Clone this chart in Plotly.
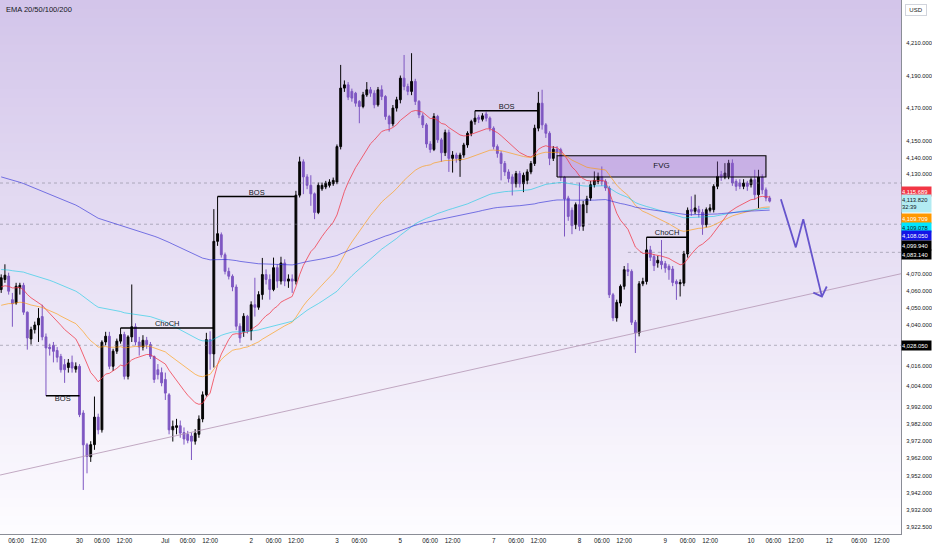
import math
import plotly.graph_objects as go

# ---------------- data (1h candles) ----------------
opens = [
    4061, 4067, 4069, 4055, 4053, 4062, 4063.5, 4047.6, 4031.8, 4037.3,
    4040, 4045, 4033, 4027, 4028, 4025, 4021.5, 4016.7, 4015, 4018,
    4014, 4015.7, 3988.4, 3969.9, 3963, 3970, 3986, 3978.6, 4030, 4033.4,
    4015.7, 4024.6, 4030.5, 4034.4, 4009.8, 4033, 4039, 4030, 4027, 4031,
    4028.5, 4021.5, 4013.7, 4012, 4008, 3999, 3978.6, 3980, 3981, 3977,
    3976, 3975, 3972, 3976, 3984.9, 3999, 4031.4, 4023, 4089.7, 4093.7,
    4081.7, 4071.8, 4068.9, 4062.5, 4039.3, 4036, 4045.2, 4036.5, 4052, 4050.5,
    4058, 4069.9, 4067, 4061, 4074, 4066, 4076.8, 4066, 4067.3, 4066,
    4117.4, 4137.5, 4128.4, 4123.3, 4118.2, 4107, 4121.2, 4122.3, 4123.3, 4124.3,
    4125.3, 4146.7, 4182.3, 4184.3, 4180.3, 4179.2, 4174.2, 4171.1, 4178.2, 4181.3,
    4179.2, 4172.1, 4181.3, 4177.2, 4165, 4160.5, 4170.1, 4175.2, 4188.4, 4183.3,
    4180.3, 4186.4, 4174.2, 4165.4, 4159.9, 4148.3, 4145, 4165, 4150.8, 4143,
    4155.2, 4139.6, 4141.6, 4138.5, 4141.6, 4147.7, 4154.8, 4161.9, 4164.5, 4163.3,
    4166.5, 4164, 4157.9, 4146.7, 4142.6, 4136.5, 4131.4, 4128.4, 4124.3, 4130.4,
    4124.3, 4126.3, 4131.4, 4136.5, 4157.9, 4173.1, 4159.9, 4154.8, 4139.6, 4145.1,
    4144.8, 4128.3, 4115.7, 4108.3, 4099.7, 4111.7, 4098.7, 4111.7, 4115.7, 4123.7,
    4125.7, 4128.7, 4125.7, 4121.7, 4057.9, 4044.2, 4053, 4062.9, 4072.8, 4071.8,
    4041.6, 4035.3, 4064.4, 4065.8, 4084.6, 4080.6, 4076.8, 4077.8, 4076.4, 4074.8,
    4073.2, 4065.8, 4064.4, 4064.8, 4082.2, 4108.7, 4107.7, 4108.7, 4107.1, 4099.7,
    4108.3, 4108.7, 4122.7, 4129.7, 4128.3, 4128.7, 4136.7, 4125.7, 4124.7, 4122.7,
    4124.7, 4123.7, 4126.7, 4117.7, 4128.3, 4120.6, 4115.7,
]
highs = [
    4070, 4076, 4071, 4059, 4065, 4065, 4065, 4048, 4039, 4042,
    4050, 4052, 4035, 4029, 4030, 4027, 4023, 4020, 4020, 4022,
    4018, 4017, 3990, 3971, 3972, 3998, 3988, 4031, 4036, 4036,
    4026, 4032, 4038.3, 4036, 4034, 4064, 4041, 4033, 4034, 4033,
    4030, 4022, 4017, 4015, 4012, 4000, 3984, 3985, 3984, 3980,
    3978, 3977, 3979, 3987, 4001, 4035.4, 4036.3, 4109, 4116.6, 4095,
    4083, 4074, 4070, 4064, 4041, 4047, 4046, 4054, 4068, 4060,
    4079.8, 4073, 4070, 4080, 4076, 4080.5, 4079, 4070, 4070, 4120,
    4140.6, 4139, 4130, 4129.4, 4119, 4125, 4125, 4126, 4127, 4128,
    4148, 4196.5, 4187, 4186, 4182, 4180, 4175, 4180, 4186, 4183,
    4181, 4183, 4184, 4178, 4166, 4172, 4177, 4190, 4202.6, 4185,
    4203.7, 4188, 4175, 4167, 4161, 4150, 4167, 4166, 4152, 4157,
    4157, 4144, 4143, 4143, 4149, 4156, 4163, 4168.5, 4166, 4167,
    4168, 4165, 4159, 4148, 4144, 4138, 4133, 4130, 4132, 4132,
    4131, 4133, 4138, 4160, 4180, 4181.3, 4161, 4156, 4147, 4147,
    4146, 4129, 4117, 4110, 4113, 4125, 4114, 4117, 4126, 4131.7,
    4131, 4134.7, 4127, 4123, 4059, 4055, 4064, 4075, 4076.7, 4073,
    4043, 4066, 4068, 4092.2, 4087, 4082, 4081, 4090.5, 4078, 4076,
    4075, 4067, 4067, 4084, 4110, 4116.7, 4117.7, 4111, 4109, 4110,
    4112, 4124, 4137.7, 4132, 4136.7, 4138.7, 4139, 4127, 4127, 4127,
    4126, 4128, 4132.7, 4132.7, 4130, 4122, 4117,
]
lows = [
    4059, 4065, 4058, 4039, 4052, 4058, 4046, 4025.5, 4028.5, 4035,
    4030, 4031, 3998.4, 4022, 4018, 4018, 4012, 4006, 4012, 4012,
    4012, 3986, 3943.8, 3953.4, 3960, 3967, 3976, 3977, 4028, 4014,
    4013, 4023, 4029, 4008, 4008, 4030, 4028, 4022, 4025, 4026,
    4020, 4006, 4008, 4004, 3996, 3976, 3971.8, 3976, 3974, 3970,
    3970.8, 3961.1, 3970, 3974, 3983, 3998, 4013.7, 4015, 4087, 4080,
    4070, 4067, 4060, 4037, 4029.5, 4033, 4035, 4031, 4045, 4049,
    4055, 4064, 4055, 4060, 4062, 4064, 4063, 4062, 4059, 4064,
    4116, 4118, 4121, 4111, 4103, 4106, 4120, 4121, 4122, 4123,
    4124, 4145, 4180, 4175, 4174, 4171, 4160.9, 4170, 4177, 4177,
    4170, 4171, 4175, 4163, 4155.8, 4159, 4168, 4173, 4181, 4178,
    4178, 4172, 4164, 4158, 4146, 4143, 4144, 4149, 4137.5, 4141,
    4131.4, 4131, 4137, 4128.4, 4140, 4146, 4153, 4160, 4161, 4162,
    4162, 4156, 4145, 4140, 4126.3, 4129, 4125, 4117.2, 4122, 4122,
    4119.2, 4124, 4130, 4135, 4156, 4157, 4152, 4135.5, 4138, 4141,
    4126, 4092.6, 4102, 4094, 4097, 4096, 4096, 4106.6, 4114, 4122,
    4124, 4123, 4120, 4056, 4042.3, 4042, 4051, 4061, 4069, 4040,
    4023.5, 4033.3, 4063, 4064, 4078, 4072, 4074, 4073, 4071, 4066.8,
    4063, 4054.9, 4056.9, 4063, 4080, 4105, 4106, 4104, 4093.6, 4098,
    4107, 4107, 4121, 4126, 4127, 4127, 4123, 4120, 4121, 4121,
    4120, 4122, 4114.7, 4109.7, 4118, 4113.7, 4113,
]
closes = [
    4068, 4069.5, 4060, 4052.6, 4063, 4063.5, 4047.6, 4032.4, 4037.3, 4040,
    4044, 4033, 4026.5, 4026, 4024.5, 4021, 4013.7, 4013.7, 4017.7, 4014.7,
    4015.7, 3987.4, 3969.9, 3963.1, 3970, 3986, 3978.6, 4029.9, 4033.4, 4015.7,
    4024.6, 4030.5, 4034.4, 4009.8, 4033, 4039, 4030, 4027, 4031, 4028.5,
    4021.5, 4008, 4010.8, 4006, 4000, 3978.6, 3980.6, 3981, 3976.7, 3973.3,
    3972.5, 3972, 3976.6, 3984.9, 3999, 4031.4, 4023, 4089.7, 4094.3, 4081.7,
    4071.8, 4068.9, 4062.5, 4039.3, 4032.4, 4045.2, 4036.5, 4052, 4050.5, 4058,
    4069.9, 4067, 4061, 4074, 4066, 4076.8, 4066, 4067.3, 4066, 4117.4,
    4137.5, 4128.4, 4123.3, 4118.2, 4107, 4123.3, 4123.3, 4124.7, 4125.3, 4126.3,
    4146.7, 4182.3, 4184.3, 4176.8, 4176.2, 4173.1, 4171.1, 4178.2, 4181.3, 4179.2,
    4172.1, 4181.3, 4177.2, 4165, 4160.5, 4170.1, 4175.2, 4188.4, 4183.3, 4180.3,
    4186.4, 4174.2, 4166, 4159.9, 4148.3, 4145, 4165, 4150.8, 4143, 4155.2,
    4139.6, 4141.6, 4139.6, 4141.6, 4147.7, 4154.8, 4161.9, 4164, 4163.3, 4165.4,
    4164, 4157.9, 4146.7, 4142.6, 4136.5, 4131.4, 4127.3, 4124.3, 4130.4, 4124.3,
    4129.4, 4131.4, 4136.5, 4157.9, 4173.1, 4159.9, 4154.8, 4139.6, 4145.1, 4143,
    4128.3, 4115.1, 4104.6, 4099.1, 4111.7, 4098.7, 4111.7, 4115.1, 4123.7, 4126.3,
    4128.7, 4125.7, 4121.7, 4057.9, 4044.2, 4053.4, 4062.9, 4072.8, 4071.8, 4041.6,
    4035.3, 4064.4, 4065.8, 4084.6, 4080.2, 4075.2, 4078.4, 4075.8, 4073.8, 4072.8,
    4065.2, 4064.4, 4065.2, 4082.2, 4108.3, 4107.7, 4109.7, 4107.1, 4099.7, 4108.7,
    4109.7, 4122.7, 4128.7, 4128.3, 4130.7, 4136.7, 4124.7, 4122.7, 4122.7, 4124.7,
    4122.7, 4126.7, 4117.7, 4128.3, 4120.6, 4115.7, 4113.8,
]

# EMA settings; the seed is the EMA value read at the left edge of the chart
ema_spans = [20, 50, 100, 200]
ema_seeds = [4062, 4051, 4073, 4129]
ema_colors = ["rgba(242,54,69,0.75)", "rgba(255,152,0,0.6)",
              "rgba(0,200,225,0.55)", "rgba(40,40,215,0.6)"]

# time scale labels (bar index where each label sits)
xtick_idx = [4, 10, 21, 27, 33, 44, 50, 56, 67, 73, 79, 90, 96, 107, 115, 121,
             132, 138, 144, 155, 161, 167, 178, 184, 190, 201, 207, 213, 222, 230, 236]
xtick_txt = ["06:00", "12:00", "30", "06:00", "12:00", "Jul", "06:00", "12:00",
             "2", "06:00", "12:00", "3", "06:00", "5", "06:00", "12:00",
             "7", "06:00", "12:00", "8", "06:00", "12:00", "9", "06:00", "12:00",
             "10", "06:00", "12:00", "12", "06:00", "12:00"]

# price scale labels
ytick_vals = [4210, 4190, 4170, 4150, 4140, 4130, 4070, 4060, 4050, 4040,
              4016, 4004, 3992, 3982, 3972, 3962, 3952, 3942, 3932, 3922.5]

# horizontal levels (dotted)
level_prices = [4124.7, 4099.94, 4083.14, 4028.05]
level_start = [None, None, 168, None]

# market structure brackets
struct_text = ["BOS", "ChoCH", "BOS", "BOS", "ChoCH"]
struct_price = [3998.4, 4038.3, 4116.6, 4168.5, 4092.2]
struct_from = [12, 32, 58, 127, 173]
struct_to = [21, 57, 79, 144, 184]
struct_below = [True, False, False, False, False]

# FVG zone
fvg_x = [149, 205]
fvg_y = [4128.3, 4141.2]

# rising trend line
trend_x = [-0.3, 241.2]
trend_y = [3952.4, 4070.4]

# projected path + arrow head
proj_x = [209, 213, 215, 220]
proj_y = [4114.9, 4086.1, 4102.9, 4056.8]
head_x = [217.7, 220, 221.3]
head_y = [4059.2, 4056.8, 4062.8]

# ---------------- figure ----------------
W, H = 932, 550
PR, PB = 901, 534          # plot right / bottom edge in px
X_RANGE = [-0.32, 241.2]
Y_RANGE = [math.log10(3918.5), math.log10(4236.5)]
FONT = "Liberation Sans Narrow, Liberation Sans, Arial, sans-serif"
INK = "#131722"
PURPLE = "#7e57c2"

n = len(closes)
idx = list(range(n))


def ema(vals, span, seed):
    a = 2 / (span + 1)
    out, v = [], seed
    for c in vals:
        v += a * (c - v)
        out.append(v)
    return out


fig = go.Figure()

# FVG box first so the candles sit on top
fig.add_trace(go.Scatter(
    x=[fvg_x[0], fvg_x[1], fvg_x[1], fvg_x[0], fvg_x[0]],
    y=[fvg_y[0], fvg_y[0], fvg_y[1], fvg_y[1], fvg_y[0]],
    mode="lines", fill="toself", fillcolor="rgba(150,95,205,0.32)",
    line=dict(color="#000000", width=1.1), hoverinfo="skip"))

# dotted levels
for p, s in zip(level_prices, level_start):
    x0 = X_RANGE[0] if s is None else s
    fig.add_trace(go.Scatter(x=[x0, X_RANGE[1]], y=[p, p], mode="lines",
                             line=dict(color="rgba(120,120,135,0.5)", width=1, dash="dot"),
                             hoverinfo="skip"))

# trend line
fig.add_trace(go.Scatter(x=trend_x, y=trend_y, mode="lines",
                         line=dict(color="rgba(180,150,180,0.8)", width=1), hoverinfo="skip"))

# EMAs
for span, seed, col in zip(ema_spans, ema_seeds, ema_colors):
    fig.add_trace(go.Scatter(x=idx, y=ema(closes, span, seed), mode="lines",
                             line=dict(color=col, width=1), hoverinfo="skip"))

# candles
fig.add_trace(go.Candlestick(
    x=idx, open=opens, high=highs, low=lows, close=closes,
    increasing=dict(line=dict(color="#050505", width=1), fillcolor="#050505"),
    decreasing=dict(line=dict(color=PURPLE, width=1), fillcolor=PURPLE),
    whiskerwidth=0, hoverinfo="skip"))

# BOS / ChoCH brackets
for t, p, a, b, below in zip(struct_text, struct_price, struct_from, struct_to, struct_below):
    fig.add_trace(go.Scatter(x=[a, b], y=[p, p], mode="lines",
                             line=dict(color="#000000", width=1.5), hoverinfo="skip"))
    fig.add_trace(go.Scatter(x=[(a + b) / 2], y=[p], mode="text", text=[t],
                             textposition="bottom center" if below else "top center",
                             textfont=dict(family=FONT, size=7.5, color=INK), hoverinfo="skip"))

fig.add_trace(go.Scatter(x=[(fvg_x[0] + fvg_x[1]) / 2], y=[math.sqrt(fvg_y[0] * fvg_y[1])],
                         mode="text", text=["FVG"],
                         textfont=dict(family=FONT, size=8, color=INK), hoverinfo="skip"))

# projection
fig.add_trace(go.Scatter(x=proj_x, y=proj_y, mode="lines",
                         line=dict(color="#6654cc", width=1.8), hoverinfo="skip"))
fig.add_trace(go.Scatter(x=head_x, y=head_y, mode="lines",
                         line=dict(color="#6654cc", width=1.8), hoverinfo="skip"))

# background gradient (lavender -> white) behind the plot area;
# bands overlap a little so no seams show between them
top, bot = (211, 197, 234), (253, 252, 255)
bands = 60
shapes = []
for k in range(bands):
    t = k / (bands - 1)
    c = tuple(round(top[j] + (bot[j] - top[j]) * t) for j in range(3))
    shapes.append(dict(type="rect", xref="paper", yref="paper", x0=0, x1=1,
                       y0=max(0, 1 - (k + 1) / bands - 0.004), y1=1 - k / bands,
                       fillcolor="rgb(%d,%d,%d)" % c, line=dict(width=0), layer="below"))


def py(px):
    return (PB - px) / PB


# price tags on the scale (stacked like the original)
tags = [
    ("4,115.689", "#f23645", "#ffffff", 191, 1),
    ("4,113.820<br>32:39", "#b2ebf2", INK, 203, 2),
    ("4,109.709", "#ff9800", "#ffffff", 218, 1),
    ("4,109.078", "#00e5ff", INK, 227, 1),
    ("4,108.050", "#1414e6", "#ffffff", 236, 1),
    ("4,099.940", "#000000", "#ffffff", 245, 1),
    ("4,083.140", "#000000", "#ffffff", 254, 1),
    ("4,028.050", "#000000", "#ffffff", 345, 1),
]
annotations = []
for txt, bg, fg, ypx, lines in tags:
    annotations.append(dict(
        x=1.0, xref="paper", xanchor="left", y=py(ypx), yref="paper", yanchor="middle",
        text=txt, showarrow=False, bgcolor=bg, align="left", width=29,
        height=8 * lines + 1, borderpad=0,
        font=dict(family=FONT, size=5.8, color=fg)))

annotations.append(dict(x=4 / PR, xref="paper", xanchor="left", y=py(9), yref="paper",
                        yanchor="middle", text="EMA 20/50/100/200", showarrow=False,
                        font=dict(family=FONT, size=7.5, color=INK)))
annotations.append(dict(x=1.004, xref="paper", xanchor="left", y=py(10), yref="paper",
                        yanchor="middle", text="USD", showarrow=False, bgcolor="#ffffff",
                        bordercolor="#d1d4dc", borderwidth=1, borderpad=2, width=16,
                        font=dict(family=FONT, size=6, color=INK)))

fig.update_layout(
    width=W, height=H, autosize=False,
    margin=dict(l=0, r=W - PR, t=0, b=H - PB, pad=0),
    paper_bgcolor="#ffffff", plot_bgcolor="rgba(0,0,0,0)",
    showlegend=False, shapes=shapes, annotations=annotations,
    boxgap=0.3,
    font=dict(family=FONT, size=6.5, color=INK),
    xaxis=dict(range=X_RANGE, showgrid=False, zeroline=False, rangeslider=dict(visible=False),
               tickmode="array", tickvals=xtick_idx, ticktext=xtick_txt, ticks="",
               showline=True, linecolor="#8a8d96", linewidth=1, automargin=False,
               tickfont=dict(family=FONT, size=6.3, color=INK)),
    yaxis=dict(type="log", range=Y_RANGE, side="right", showgrid=False, zeroline=False,
               tickmode="array", tickvals=ytick_vals,
               ticktext=["{:,.3f}".format(v) for v in ytick_vals],
               ticks="", ticklabelstandoff=3,
               showline=True, linecolor="#8a8d96", linewidth=1, automargin=False,
               tickfont=dict(family=FONT, size=5.8, color=INK)),
)

# the page body keeps its default 8px margin unless reset
fig.write_html("out.html", config={"displayModeBar": False},
               post_script="document.body.style.margin='0';document.body.style.overflow='hidden';")
